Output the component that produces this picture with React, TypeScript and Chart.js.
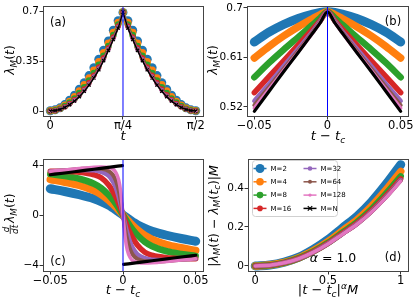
import React, { useEffect, useRef } from "react";
import { Chart, registerables } from "chart.js";
Chart.register(...registerables);

const FIG_W = 416;
const FIG_H = 301;
const FONT = '"DejaVu Sans"';

const LABELS_M = ["M=2", "M=4", "M=8", "M=16", "M=32", "M=64", "M=128", "M=N"];
const COLORS = ["#1f77b4", "#ff7f0e", "#2ca02c", "#d62728", "#9467bd", "#8c564b", "#e377c2", "#000000"];
const MARKER_R = [4.5, 3.8, 3.3, 2.8, 2.3, 2.0, 1.7, 2.2];
const BAND_W = [9, 7.5, 6.5, 5.5, 4.5, 4, 3.5, 3.2];

// ---------- panel (a) ----------
const A_T = [0, 0.052, 0.105, 0.157, 0.209, 0.262, 0.314, 0.367, 0.419, 0.471, 0.524, 0.576, 0.628, 0.681, 0.733, 0.785, 0.838, 0.890, 0.942, 0.995, 1.047, 1.100, 1.152, 1.204, 1.257, 1.309, 1.361, 1.414, 1.466, 1.518, 1.571];
const A_M2 = [0.002, 0.008, 0.022, 0.045, 0.075, 0.110, 0.152, 0.198, 0.248, 0.303, 0.362, 0.425, 0.490, 0.565, 0.632, 0.690, 0.632, 0.565, 0.490, 0.425, 0.362, 0.303, 0.248, 0.198, 0.152, 0.110, 0.075, 0.045, 0.022, 0.008, 0.002];
const A_M4 = [0.002, 0.007, 0.019, 0.040, 0.067, 0.100, 0.139, 0.183, 0.231, 0.285, 0.344, 0.407, 0.474, 0.549, 0.619, 0.692, 0.619, 0.549, 0.474, 0.407, 0.344, 0.285, 0.231, 0.183, 0.139, 0.100, 0.067, 0.040, 0.019, 0.007, 0.002];
const A_M8 = [0.001, 0.005, 0.016, 0.035, 0.059, 0.088, 0.125, 0.166, 0.213, 0.265, 0.323, 0.387, 0.455, 0.531, 0.605, 0.693, 0.605, 0.531, 0.455, 0.387, 0.323, 0.265, 0.213, 0.166, 0.125, 0.088, 0.059, 0.035, 0.016, 0.005, 0.001];
const A_M16 = [0.001, 0.004, 0.014, 0.030, 0.052, 0.080, 0.114, 0.154, 0.199, 0.250, 0.308, 0.372, 0.442, 0.518, 0.594, 0.693, 0.594, 0.518, 0.442, 0.372, 0.308, 0.250, 0.199, 0.154, 0.114, 0.080, 0.052, 0.030, 0.014, 0.004, 0.001];
const A_M32 = [0, 0.004, 0.013, 0.028, 0.048, 0.075, 0.107, 0.146, 0.190, 0.241, 0.298, 0.362, 0.433, 0.509, 0.587, 0.693, 0.587, 0.509, 0.433, 0.362, 0.298, 0.241, 0.190, 0.146, 0.107, 0.075, 0.048, 0.028, 0.013, 0.004, 0];
const A_M64 = [0, 0.003, 0.012, 0.026, 0.046, 0.072, 0.103, 0.142, 0.185, 0.236, 0.293, 0.357, 0.428, 0.504, 0.583, 0.693, 0.583, 0.504, 0.428, 0.357, 0.293, 0.236, 0.185, 0.142, 0.103, 0.072, 0.046, 0.026, 0.012, 0.003, 0];
const A_M128 = [0, 0.003, 0.011, 0.025, 0.045, 0.070, 0.101, 0.140, 0.183, 0.233, 0.290, 0.354, 0.426, 0.502, 0.581, 0.693, 0.581, 0.502, 0.426, 0.354, 0.290, 0.233, 0.183, 0.140, 0.101, 0.070, 0.045, 0.025, 0.011, 0.003, 0];
const A_MN = [0, 0.003, 0.011, 0.025, 0.044, 0.069, 0.100, 0.138, 0.181, 0.231, 0.288, 0.352, 0.424, 0.500, 0.580, 0.693, 0.580, 0.500, 0.424, 0.352, 0.288, 0.231, 0.181, 0.138, 0.100, 0.069, 0.044, 0.025, 0.011, 0.003, 0];
const A_X_TICKS = [0, Math.PI / 4, Math.PI / 2];
const A_X_LABELS = ["0", "π/4", "π/2"];
const A_Y_TICKS = [0, 0.35, 0.7];
const A_Y_LABELS = ["0", "0.35", "0.7"];

// ---------- panel (b) ----------
const B_X = [-0.05, -0.04, -0.03, -0.02, -0.01, -0.005, 0, 0.005, 0.01, 0.02, 0.03, 0.04, 0.05];
const B_M2 = [0.638, 0.656, 0.670, 0.681, 0.689, 0.692, 0.693, 0.692, 0.689, 0.681, 0.670, 0.656, 0.638];
const B_M4 = [0.609, 0.630, 0.649, 0.666, 0.681, 0.688, 0.693, 0.688, 0.681, 0.666, 0.649, 0.630, 0.609];
const B_M8 = [0.574, 0.600, 0.624, 0.647, 0.670, 0.682, 0.693, 0.682, 0.670, 0.647, 0.624, 0.600, 0.574];
const B_M16 = [0.546, 0.575, 0.604, 0.633, 0.662, 0.677, 0.693, 0.677, 0.662, 0.633, 0.604, 0.575, 0.546];
const B_M32 = [0.531, 0.562, 0.594, 0.626, 0.658, 0.676, 0.693, 0.676, 0.658, 0.626, 0.594, 0.562, 0.531];
const B_M64 = [0.523, 0.556, 0.589, 0.622, 0.656, 0.675, 0.693, 0.675, 0.656, 0.622, 0.589, 0.556, 0.523];
const B_M128 = [0.518, 0.552, 0.586, 0.620, 0.655, 0.674, 0.693, 0.674, 0.655, 0.620, 0.586, 0.552, 0.518];
const B_MN = [0.512, 0.548, 0.584, 0.619, 0.655, 0.673, 0.693, 0.673, 0.655, 0.619, 0.584, 0.548, 0.512];
const B_X_TICKS = [-0.05, 0, 0.05];
const B_X_LABELS = ["\u22120.05", "0", "0.05"];
const B_Y_TICKS = [0.52, 0.61, 0.7];
const B_Y_LABELS = ["0.52", "0.61", "0.7"];

// ---------- panel (c) ----------
const C_X = [-0.05, -0.04, -0.03, -0.02, -0.015, -0.01, -0.007, -0.005, -0.003, -0.0015, 0, 0.0015, 0.003, 0.005, 0.007, 0.01, 0.015, 0.02, 0.03, 0.04, 0.05];
const C_M2 = [2.10, 1.88, 1.62, 1.30, 1.08, 0.80, 0.58, 0.42, 0.26, 0.13, 0, -0.13, -0.26, -0.42, -0.58, -0.80, -1.08, -1.30, -1.62, -1.88, -2.10];
const C_M4 = [2.84, 2.62, 2.36, 1.95, 1.64, 1.20, 0.88, 0.64, 0.39, 0.20, 0, -0.20, -0.39, -0.64, -0.88, -1.20, -1.64, -1.95, -2.36, -2.62, -2.84];
const C_M8 = [3.27, 3.12, 2.90, 2.50, 2.15, 1.62, 1.22, 0.90, 0.56, 0.28, 0, -0.28, -0.56, -0.90, -1.22, -1.62, -2.15, -2.50, -2.90, -3.12, -3.27];
const C_M16 = [3.50, 3.48, 3.42, 3.22, 2.98, 2.42, 1.90, 1.45, 0.92, 0.47, 0, -0.47, -0.92, -1.45, -1.90, -2.42, -2.98, -3.22, -3.42, -3.48, -3.50];
const C_M32 = [3.50, 3.55, 3.60, 3.58, 3.45, 3.15, 2.70, 2.20, 1.45, 0.76, 0, -0.76, -1.45, -2.20, -2.70, -3.15, -3.45, -3.58, -3.60, -3.55, -3.50];
const C_M64 = [3.50, 3.58, 3.68, 3.74, 3.70, 3.52, 3.22, 2.78, 2.00, 1.15, 0, -1.15, -2.00, -2.78, -3.22, -3.52, -3.70, -3.74, -3.68, -3.58, -3.50];
const C_M128 = [3.50, 3.60, 3.72, 3.82, 3.84, 3.80, 3.68, 3.42, 2.82, 1.80, 0, -1.80, -2.82, -3.42, -3.68, -3.80, -3.84, -3.82, -3.72, -3.60, -3.50];
const C_XN = [-0.05, -0.04, -0.03, -0.02, -0.01, -0.0004, 0, 0.0004, 0.01, 0.02, 0.03, 0.04, 0.05];
const C_MN = [3.22, 3.36, 3.51, 3.66, 3.81, 3.95, null, -3.95, -3.81, -3.66, -3.51, -3.36, -3.22];
const C_X_TICKS = [-0.05, 0, 0.05];
const C_X_LABELS = ["\u22120.05", "0", "0.05"];
const C_Y_TICKS = [-4, 0, 4];
const C_Y_LABELS = ["\u22124", "0", "4"];

// ---------- panel (d) ----------
const D_X = [0, 0.1, 0.2, 0.3, 0.4, 0.5, 0.6, 0.7, 0.8, 0.9, 1.0];
const D_M2 = [0, 0.005, 0.020, 0.045, 0.085, 0.135, 0.195, 0.255, 0.330, 0.420, 0.520];
const D_M4 = [0, 0.005, 0.018, 0.042, 0.079, 0.125, 0.181, 0.237, 0.307, 0.391, 0.485];
const D_M8 = [0, 0.004, 0.017, 0.040, 0.075, 0.119, 0.172, 0.226, 0.292, 0.372, 0.460];
const D_M16 = [0, 0.004, 0.017, 0.039, 0.073, 0.116, 0.168, 0.219, 0.284, 0.361, 0.447];
const D_M32 = [0, 0.004, 0.017, 0.038, 0.072, 0.114, 0.165, 0.216, 0.280, 0.356, 0.441];
const D_M64 = [0, 0.004, 0.017, 0.038, 0.072, 0.113, 0.164, 0.215, 0.278, 0.354, 0.438];
const D_M128 = [0, 0.004, 0.016, 0.038, 0.071, 0.113, 0.163, 0.214, 0.277, 0.352, 0.436];
const D_MN: number[] = [];
const D_X_TICKS = [0, 0.5, 1];
const D_X_LABELS = ["0", "0.5", "1"];
const D_Y_TICKS = [0, 0.2, 0.4];
const D_Y_LABELS = ["0", "0.2", "0.4"];

// ---------- text helpers ----------
type Part = { t?: string; it?: boolean; sub?: boolean; sup?: boolean; frac?: [string, string] };

function fontStr(size: number, it?: boolean) {
  return `${it ? "italic " : ""}${size}px ${FONT}`;
}

function measureParts(ctx: CanvasRenderingContext2D, parts: Part[], fs: number) {
  let w = 0;
  for (const p of parts) {
    if (p.frac) {
      ctx.font = fontStr(fs * 0.7, true);
      w += Math.max(ctx.measureText(p.frac[0]).width, ctx.measureText(p.frac[1]).width) + fs * 0.2;
    } else {
      ctx.font = fontStr(p.sub || p.sup ? fs * 0.7 : fs, p.it);
      w += ctx.measureText(p.t || "").width;
    }
  }
  return w;
}

function drawParts(ctx: CanvasRenderingContext2D, parts: Part[], x: number, y: number, fs: number, rot = 0) {
  ctx.save();
  ctx.translate(x, y);
  ctx.rotate(rot);
  const w = measureParts(ctx, parts, fs);
  let cx = -w / 2;
  ctx.fillStyle = "#000";
  ctx.strokeStyle = "#000";
  ctx.textBaseline = "alphabetic";
  ctx.textAlign = "left";
  for (const p of parts) {
    if (p.frac) {
      const s = fs * 0.7;
      ctx.font = fontStr(s, true);
      const w0 = ctx.measureText(p.frac[0]).width;
      const w1 = ctx.measureText(p.frac[1]).width;
      const fw = Math.max(w0, w1);
      cx += fs * 0.05;
      const barY = -fs * 0.3;
      ctx.fillText(p.frac[0], cx + (fw - w0) / 2, barY - fs * 0.1);
      ctx.fillText(p.frac[1], cx + (fw - w1) / 2, barY + fs * 0.1 + s * 0.74);
      ctx.lineWidth = 0.8;
      ctx.beginPath();
      ctx.moveTo(cx, barY);
      ctx.lineTo(cx + fw, barY);
      ctx.stroke();
      cx += fw + fs * 0.15;
    } else {
      const s = p.sub || p.sup ? fs * 0.7 : fs;
      ctx.font = fontStr(s, p.it);
      const dy = p.sub ? fs * 0.22 : p.sup ? -fs * 0.42 : 0;
      ctx.fillText(p.t || "", cx, dy);
      cx += ctx.measureText(p.t || "").width;
    }
  }
  ctx.restore();
}

function drawPlain(ctx: CanvasRenderingContext2D, text: string, x: number, y: number, fs: number) {
  ctx.save();
  ctx.font = fontStr(fs);
  ctx.fillStyle = "#000";
  ctx.textAlign = "center";
  ctx.textBaseline = "middle";
  ctx.fillText(text, x, y);
  ctx.restore();
}

const LAMBDA_M_T: Part[] = [{ t: "λ", it: true }, { t: "M", it: true, sub: true }, { t: "(" }, { t: "t", it: true }, { t: ")" }];
const T_MINUS_TC: Part[] = [{ t: "t", it: true }, { t: " \u2212 " }, { t: "t", it: true }, { t: "c", it: true, sub: true }];

// ---------- chart builder ----------
type Area = { l: number; r: number; t: number; b: number };
type PanelCfg = {
  area: Area;
  xMin: number; xMax: number; yMin: number; yMax: number;
  xTicks: number[]; xLabels: string[]; yTicks: number[]; yLabels: string[];
  datasets: any[];
  vline?: number;
  extras: (ctx: CanvasRenderingContext2D, chart: any) => void;
};

const X_TICK_FS = 11.5;
const Y_TICK_FS = 10.5;
const Y_BOX = 40;
const X_BOX = 30;

function axis(min: number, max: number, ticks: number[], labels: string[], horizontal: boolean) {
  return {
    type: "linear",
    min,
    max,
    afterBuildTicks: (s: any) => {
      s.ticks = ticks.map((v) => ({ value: v }));
    },
    afterFit: (s: any) => {
      if (horizontal) s.height = X_BOX;
      else s.width = Y_BOX;
      s.paddingLeft = 0;
      s.paddingRight = 0;
      s.paddingTop = 0;
      s.paddingBottom = 0;
    },
    ticks: {
      callback: (_v: any, i: number) => labels[i],
      font: { family: "DejaVu Sans", size: horizontal ? X_TICK_FS : Y_TICK_FS },
      color: "#000",
      padding: horizontal ? 0 : 0.5,
      maxRotation: 0,
      minRotation: 0,
      autoSkip: false,
    },
    grid: { display: true, drawOnChartArea: false, drawTicks: true, tickLength: 3.5, color: "#333", lineWidth: 1 },
    border: { display: false },
  };
}

function buildChart(canvas: HTMLCanvasElement, cfg: PanelCfg) {
  const { area } = cfg;
  const plugin = {
    id: "extras",
    afterDatasetsDraw(chart: any) {
      const ctx = chart.ctx as CanvasRenderingContext2D;
      const ca = chart.chartArea;
      ctx.save();
      if (cfg.vline !== undefined) {
        const px = chart.scales.x.getPixelForValue(cfg.vline);
        ctx.strokeStyle = "#0000ff";
        ctx.lineWidth = 1;
        ctx.beginPath();
        ctx.moveTo(px, ca.top);
        ctx.lineTo(px, ca.bottom);
        ctx.stroke();
      }
      ctx.strokeStyle = "#444";
      ctx.lineWidth = 1;
      ctx.strokeRect(Math.round(ca.left) + 0.5, Math.round(ca.top) + 0.5, Math.round(ca.right - ca.left), Math.round(ca.bottom - ca.top));
      ctx.restore();
    },
    afterDraw(chart: any) {
      cfg.extras(chart.ctx, chart);
    },
  };
  return new Chart(canvas, {
    type: "line",
    data: { datasets: cfg.datasets },
    options: {
      responsive: false,
      animation: false,
      devicePixelRatio: 1,
      events: [],
      parsing: false as any,
      spanGaps: false,
      layout: {
        padding: {
          left: area.l - Y_BOX,
          right: FIG_W - area.r,
          top: area.t,
          bottom: FIG_H - area.b - X_BOX,
        },
      },
      plugins: { legend: { display: false }, tooltip: { enabled: false } },
      scales: {
        x: axis(cfg.xMin, cfg.xMax, cfg.xTicks, cfg.xLabels, true) as any,
        y: axis(cfg.yMin, cfg.yMax, cfg.yTicks, cfg.yLabels, false) as any,
      },
    } as any,
    plugins: [plugin],
  });
}

function pts(xs: number[], ys: (number | null)[]) {
  return ys.map((y, i) => ({ x: xs[i], y }));
}

function markerSets(xs: number[], series: number[][]) {
  return series.map((ys, i) => ({
    label: LABELS_M[i],
    data: pts(xs, ys),
    borderColor: COLORS[i],
    backgroundColor: COLORS[i],
    borderWidth: 1.5,
    pointRadius: MARKER_R[i],
    pointStyle: i === 7 ? "crossRot" : "circle",
    pointBorderWidth: i === 7 ? 1.2 : 0,
    pointBorderColor: COLORS[i],
    pointBackgroundColor: COLORS[i],
    order: 7 - i,
  }));
}

function bandSets(xsList: number[][], series: (number | null)[][]) {
  return series.map((ys, i) => ({
    label: LABELS_M[i],
    data: pts(xsList[i], ys),
    borderColor: COLORS[i],
    backgroundColor: COLORS[i],
    borderWidth: BAND_W[i],
    borderCapStyle: "round",
    borderJoinStyle: "round",
    cubicInterpolationMode: "monotone",
    pointRadius: 0,
    spanGaps: false,
    order: 7 - i,
  }));
}

function drawLegend(ctx: CanvasRenderingContext2D) {
  ctx.save();
  const x0 = 252.5, y0 = 160.5, w = 85, h = 56, r = 3;
  ctx.beginPath();
  ctx.moveTo(x0 + r, y0);
  ctx.arcTo(x0 + w, y0, x0 + w, y0 + h, r);
  ctx.arcTo(x0 + w, y0 + h, x0, y0 + h, r);
  ctx.arcTo(x0, y0 + h, x0, y0, r);
  ctx.arcTo(x0, y0, x0 + w, y0, r);
  ctx.closePath();
  ctx.fillStyle = "rgba(255,255,255,0.8)";
  ctx.fill();
  ctx.strokeStyle = "#d0d0d0";
  ctx.lineWidth = 1;
  ctx.stroke();
  const rows = [168.5, 181.8, 195.1, 208.4];
  const cols = [253.5, 303.5];
  for (let i = 0; i < LABELS_M.length; i++) {
    const cx = cols[Math.floor(i / 4)];
    const cy = rows[i % 4];
    ctx.strokeStyle = COLORS[i];
    ctx.fillStyle = COLORS[i];
    ctx.lineWidth = 1.5;
    ctx.beginPath();
    ctx.moveTo(cx, cy);
    ctx.lineTo(cx + 13, cy);
    ctx.stroke();
    const mx = cx + 6.5;
    if (i === 7) {
      ctx.lineWidth = 1.2;
      const s = 2.2;
      ctx.beginPath();
      ctx.moveTo(mx - s, cy - s);
      ctx.lineTo(mx + s, cy + s);
      ctx.moveTo(mx - s, cy + s);
      ctx.lineTo(mx + s, cy - s);
      ctx.stroke();
    } else {
      ctx.beginPath();
      ctx.arc(mx, cy, MARKER_R[i], 0, Math.PI * 2);
      ctx.fill();
    }
    ctx.fillStyle = "#000";
    ctx.font = fontStr(7);
    ctx.textAlign = "left";
    ctx.textBaseline = "middle";
    ctx.fillText(LABELS_M[i], cx + 17, cy + 0.5);
  }
  ctx.restore();
}

const PANELS: PanelCfg[] = [
  {
    area: { l: 43, r: 203, t: 6, b: 116 },
    xMin: -0.0785, xMax: 1.6493, yMin: -0.035, yMax: 0.735,
    xTicks: A_X_TICKS, xLabels: A_X_LABELS, yTicks: A_Y_TICKS, yLabels: A_Y_LABELS,
    datasets: markerSets(A_T, [A_M2, A_M4, A_M8, A_M16, A_M32, A_M64, A_M128, A_MN]),
    vline: Math.PI / 4,
    extras: (ctx) => {
      drawParts(ctx, LAMBDA_M_T, 14, 60, 12.5, -Math.PI / 2);
      drawParts(ctx, [{ t: "t", it: true }], 123, 140, 13);
      drawPlain(ctx, "(a)", 58, 23, 11.5);
    },
  },
  {
    area: { l: 247, r: 408, t: 6, b: 116 },
    xMin: -0.055, xMax: 0.055, yMin: 0.5035, yMax: 0.7036,
    xTicks: B_X_TICKS, xLabels: B_X_LABELS, yTicks: B_Y_TICKS, yLabels: B_Y_LABELS,
    datasets: bandSets([B_X, B_X, B_X, B_X, B_X, B_X, B_X, B_X], [B_M2, B_M4, B_M8, B_M16, B_M32, B_M64, B_M128, B_MN]),
    vline: 0,
    extras: (ctx) => {
      drawParts(ctx, LAMBDA_M_T, 217, 60, 12.5, -Math.PI / 2);
      drawParts(ctx, T_MINUS_TC, 328, 140, 13);
      drawPlain(ctx, "(b)", 393, 22, 11.5);
    },
  },
  {
    area: { l: 43, r: 203, t: 159, b: 271 },
    xMin: -0.055, xMax: 0.055, yMin: -4.48, yMax: 4.48,
    xTicks: C_X_TICKS, xLabels: C_X_LABELS, yTicks: C_Y_TICKS, yLabels: C_Y_LABELS,
    datasets: bandSets([C_X, C_X, C_X, C_X, C_X, C_X, C_X, C_XN], [C_M2, C_M4, C_M8, C_M16, C_M32, C_M64, C_M128, C_MN]),
    vline: 0,
    extras: (ctx) => {
      drawParts(ctx, [{ frac: ["d", "dt"] }, ...LAMBDA_M_T], 14, 214, 12.5, -Math.PI / 2);
      drawParts(ctx, T_MINUS_TC, 123, 294, 13);
      drawPlain(ctx, "(c)", 58, 262, 11.5);
    },
  },
  {
    area: { l: 248, r: 408, t: 159, b: 271 },
    xMin: -0.05, xMax: 1.05, yMin: -0.026, yMax: 0.549,
    xTicks: D_X_TICKS, xLabels: D_X_LABELS, yTicks: D_Y_TICKS, yLabels: D_Y_LABELS,
    datasets: bandSets([D_X, D_X, D_X, D_X, D_X, D_X, D_X, D_X], [D_M2, D_M4, D_M8, D_M16, D_M32, D_M64, D_M128, D_MN]),
    extras: (ctx) => {
      drawParts(
        ctx,
        [
          { t: "|" }, { t: "λ", it: true }, { t: "M", it: true, sub: true }, { t: "(" }, { t: "t", it: true }, { t: ")" },
          { t: " \u2212 " }, { t: "λ", it: true }, { t: "M", it: true, sub: true }, { t: "(" }, { t: "t", it: true },
          { t: "c", it: true, sub: true }, { t: ")|" }, { t: "M", it: true },
        ],
        217.5, 216, 12.5, -Math.PI / 2
      );
      drawParts(
        ctx,
        [{ t: "|" }, { t: "t", it: true }, { t: " \u2212 " }, { t: "t", it: true }, { t: "c", it: true, sub: true }, { t: "|" }, { t: "α", it: true, sup: true }, { t: "M", it: true }],
        328, 294, 13
      );
      drawParts(ctx, [{ t: "α", it: true }, { t: " = 1.0" }], 333, 262, 12.5);
      drawPlain(ctx, "(d)", 393, 258, 11.5);
      drawLegend(ctx);
    },
  },
];

export default function App() {
  const refs = [useRef<HTMLCanvasElement>(null), useRef<HTMLCanvasElement>(null), useRef<HTMLCanvasElement>(null), useRef<HTMLCanvasElement>(null)];
  useEffect(() => {
    document.body.style.margin = "0";
    const charts = PANELS.map((p, i) => buildChart(refs[i].current as HTMLCanvasElement, p));
    return () => charts.forEach((c) => c.destroy());
  }, []);
  return (
    <div style={{ position: "relative", width: FIG_W, height: FIG_H, background: "#fff", overflow: "hidden" }}>
      {refs.map((r, i) => (
        <canvas key={i} ref={r} width={FIG_W} height={FIG_H} style={{ position: "absolute", left: 0, top: 0, width: FIG_W, height: FIG_H }} />
      ))}
    </div>
  );
}
